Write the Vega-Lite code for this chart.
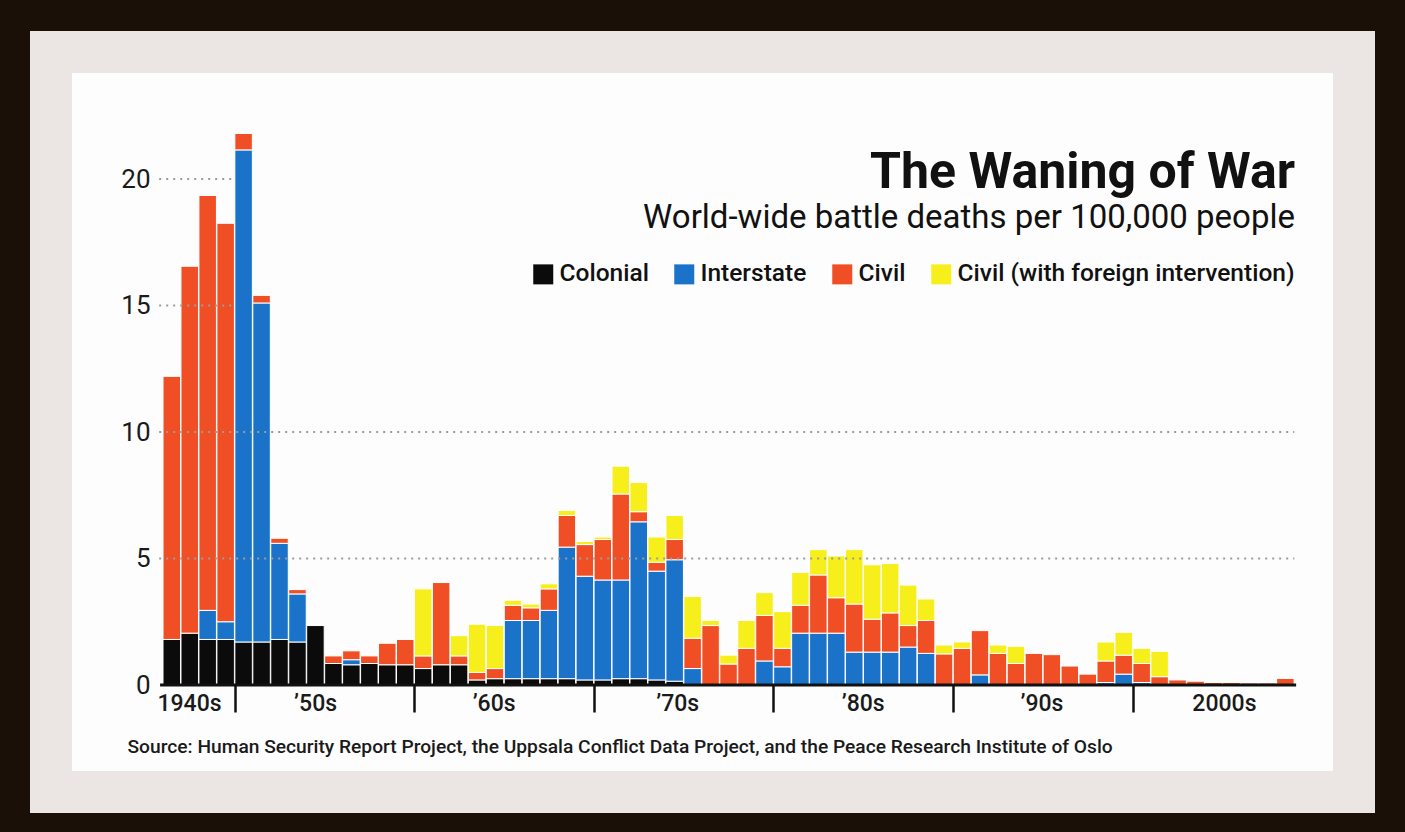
{
  "$schema": "https://vega.github.io/schema/vega-lite/v6.json",
  "width": 1303,
  "height": 740,
  "autosize": "none",
  "padding": {"left": 51, "top": 52, "right": 51, "bottom": 40},
  "background": "#1b1008",
  "title": {
    "text": "The Waning of War",
    "subtitle": "World-wide battle deaths per 100,000 people",
    "orient": "top",
    "anchor": "end",
    "frame": "group",
    "offset": -183,
    "dx": -59,
    "font": "Roboto",
    "fontSize": 50,
    "fontWeight": "bold",
    "color": "#111111",
    "subtitleFont": "Roboto",
    "subtitleFontSize": 33,
    "subtitleColor": "#111111",
    "subtitlePadding": 4
  },
  "datasets": {
    "war_types": [
      {"type": "Colonial", "stack_order": 1},
      {"type": "Interstate", "stack_order": 2},
      {"type": "Civil", "stack_order": 3},
      {"type": "Civil (with foreign intervention)", "stack_order": 4}
    ],
    "battle_deaths": [
      {"year": 1946, "Colonial": 1.8, "Interstate": 0, "Civil": 10.4, "Civil (with foreign intervention)": 0},
      {"year": 1947, "Colonial": 2.05, "Interstate": 0, "Civil": 14.5, "Civil (with foreign intervention)": 0},
      {"year": 1948, "Colonial": 1.8, "Interstate": 1.15, "Civil": 16.4, "Civil (with foreign intervention)": 0},
      {"year": 1949, "Colonial": 1.8, "Interstate": 0.7, "Civil": 15.75, "Civil (with foreign intervention)": 0},
      {"year": 1950, "Colonial": 1.7, "Interstate": 19.45, "Civil": 0.65, "Civil (with foreign intervention)": 0},
      {"year": 1951, "Colonial": 1.7, "Interstate": 13.4, "Civil": 0.3, "Civil (with foreign intervention)": 0},
      {"year": 1952, "Colonial": 1.8, "Interstate": 3.8, "Civil": 0.2, "Civil (with foreign intervention)": 0},
      {"year": 1953, "Colonial": 1.7, "Interstate": 1.9, "Civil": 0.17, "Civil (with foreign intervention)": 0},
      {"year": 1954, "Colonial": 2.35, "Interstate": 0, "Civil": 0, "Civil (with foreign intervention)": 0},
      {"year": 1955, "Colonial": 0.85, "Interstate": 0, "Civil": 0.3, "Civil (with foreign intervention)": 0},
      {"year": 1956, "Colonial": 0.8, "Interstate": 0.2, "Civil": 0.35, "Civil (with foreign intervention)": 0},
      {"year": 1957, "Colonial": 0.85, "Interstate": 0, "Civil": 0.3, "Civil (with foreign intervention)": 0},
      {"year": 1958, "Colonial": 0.8, "Interstate": 0, "Civil": 0.85, "Civil (with foreign intervention)": 0},
      {"year": 1959, "Colonial": 0.8, "Interstate": 0, "Civil": 1.0, "Civil (with foreign intervention)": 0},
      {"year": 1960, "Colonial": 0.65, "Interstate": 0, "Civil": 0.5, "Civil (with foreign intervention)": 2.65},
      {"year": 1961, "Colonial": 0.8, "Interstate": 0, "Civil": 3.25, "Civil (with foreign intervention)": 0},
      {"year": 1962, "Colonial": 0.8, "Interstate": 0, "Civil": 0.35, "Civil (with foreign intervention)": 0.8},
      {"year": 1963, "Colonial": 0.2, "Interstate": 0, "Civil": 0.3, "Civil (with foreign intervention)": 1.9},
      {"year": 1964, "Colonial": 0.25, "Interstate": 0, "Civil": 0.4, "Civil (with foreign intervention)": 1.7},
      {"year": 1965, "Colonial": 0.25, "Interstate": 2.3, "Civil": 0.6, "Civil (with foreign intervention)": 0.2},
      {"year": 1966, "Colonial": 0.25, "Interstate": 2.3, "Civil": 0.5, "Civil (with foreign intervention)": 0.15},
      {"year": 1967, "Colonial": 0.25, "Interstate": 2.7, "Civil": 0.85, "Civil (with foreign intervention)": 0.2},
      {"year": 1968, "Colonial": 0.25, "Interstate": 5.2, "Civil": 1.25, "Civil (with foreign intervention)": 0.2},
      {"year": 1969, "Colonial": 0.2, "Interstate": 4.1, "Civil": 1.25, "Civil (with foreign intervention)": 0.12},
      {"year": 1970, "Colonial": 0.2, "Interstate": 3.95, "Civil": 1.6, "Civil (with foreign intervention)": 0.1},
      {"year": 1971, "Colonial": 0.25, "Interstate": 3.9, "Civil": 3.4, "Civil (with foreign intervention)": 1.1},
      {"year": 1972, "Colonial": 0.25, "Interstate": 6.2, "Civil": 0.4, "Civil (with foreign intervention)": 1.15},
      {"year": 1973, "Colonial": 0.2, "Interstate": 4.3, "Civil": 0.35, "Civil (with foreign intervention)": 1.0},
      {"year": 1974, "Colonial": 0.15, "Interstate": 4.8, "Civil": 0.8, "Civil (with foreign intervention)": 0.95},
      {"year": 1975, "Colonial": 0, "Interstate": 0.65, "Civil": 1.2, "Civil (with foreign intervention)": 1.65},
      {"year": 1976, "Colonial": 0, "Interstate": 0, "Civil": 2.35, "Civil (with foreign intervention)": 0.2},
      {"year": 1977, "Colonial": 0, "Interstate": 0, "Civil": 0.83, "Civil (with foreign intervention)": 0.35},
      {"year": 1978, "Colonial": 0, "Interstate": 0, "Civil": 1.45, "Civil (with foreign intervention)": 1.1},
      {"year": 1979, "Colonial": 0, "Interstate": 0.95, "Civil": 1.8, "Civil (with foreign intervention)": 0.9},
      {"year": 1980, "Colonial": 0, "Interstate": 0.72, "Civil": 0.73, "Civil (with foreign intervention)": 1.45},
      {"year": 1981, "Colonial": 0, "Interstate": 2.05, "Civil": 1.1, "Civil (with foreign intervention)": 1.3},
      {"year": 1982, "Colonial": 0, "Interstate": 2.05, "Civil": 2.3, "Civil (with foreign intervention)": 1.0},
      {"year": 1983, "Colonial": 0, "Interstate": 2.05, "Civil": 1.4, "Civil (with foreign intervention)": 1.65},
      {"year": 1984, "Colonial": 0, "Interstate": 1.3, "Civil": 1.9, "Civil (with foreign intervention)": 2.15},
      {"year": 1985, "Colonial": 0, "Interstate": 1.3, "Civil": 1.3, "Civil (with foreign intervention)": 2.15},
      {"year": 1986, "Colonial": 0, "Interstate": 1.3, "Civil": 1.55, "Civil (with foreign intervention)": 1.95},
      {"year": 1987, "Colonial": 0, "Interstate": 1.5, "Civil": 0.85, "Civil (with foreign intervention)": 1.6},
      {"year": 1988, "Colonial": 0, "Interstate": 1.25, "Civil": 1.3, "Civil (with foreign intervention)": 0.85},
      {"year": 1989, "Colonial": 0, "Interstate": 0, "Civil": 1.23, "Civil (with foreign intervention)": 0.35},
      {"year": 1990, "Colonial": 0, "Interstate": 0, "Civil": 1.45, "Civil (with foreign intervention)": 0.25},
      {"year": 1991, "Colonial": 0, "Interstate": 0.4, "Civil": 1.75, "Civil (with foreign intervention)": 0},
      {"year": 1992, "Colonial": 0, "Interstate": 0, "Civil": 1.25, "Civil (with foreign intervention)": 0.33},
      {"year": 1993, "Colonial": 0, "Interstate": 0, "Civil": 0.85, "Civil (with foreign intervention)": 0.68},
      {"year": 1994, "Colonial": 0, "Interstate": 0, "Civil": 1.25, "Civil (with foreign intervention)": 0},
      {"year": 1995, "Colonial": 0, "Interstate": 0, "Civil": 1.2, "Civil (with foreign intervention)": 0},
      {"year": 1996, "Colonial": 0, "Interstate": 0, "Civil": 0.75, "Civil (with foreign intervention)": 0},
      {"year": 1997, "Colonial": 0, "Interstate": 0, "Civil": 0.43, "Civil (with foreign intervention)": 0},
      {"year": 1998, "Colonial": 0, "Interstate": 0.1, "Civil": 0.85, "Civil (with foreign intervention)": 0.75},
      {"year": 1999, "Colonial": 0, "Interstate": 0.43, "Civil": 0.75, "Civil (with foreign intervention)": 0.9},
      {"year": 2000, "Colonial": 0, "Interstate": 0.1, "Civil": 0.75, "Civil (with foreign intervention)": 0.6},
      {"year": 2001, "Colonial": 0, "Interstate": 0, "Civil": 0.33, "Civil (with foreign intervention)": 1.0},
      {"year": 2002, "Colonial": 0, "Interstate": 0, "Civil": 0.2, "Civil (with foreign intervention)": 0},
      {"year": 2003, "Colonial": 0, "Interstate": 0, "Civil": 0.15, "Civil (with foreign intervention)": 0},
      {"year": 2004, "Colonial": 0, "Interstate": 0, "Civil": 0.1, "Civil (with foreign intervention)": 0},
      {"year": 2005, "Colonial": 0, "Interstate": 0, "Civil": 0.1, "Civil (with foreign intervention)": 0},
      {"year": 2006, "Colonial": 0, "Interstate": 0, "Civil": 0.08, "Civil (with foreign intervention)": 0},
      {"year": 2007, "Colonial": 0, "Interstate": 0, "Civil": 0.08, "Civil (with foreign intervention)": 0},
      {"year": 2008, "Colonial": 0, "Interstate": 0, "Civil": 0.26, "Civil (with foreign intervention)": 0}
    ]
  },
  "layer": [
    {
      "data": {"name": "battle_deaths"},
      "transform": [
        {"fold": ["Colonial", "Interstate", "Civil", "Civil (with foreign intervention)"], "as": ["type", "deaths"]},
        {"filter": "datum.deaths > 0"},
        {"lookup": "type", "from": {"data": {"name": "war_types"}, "key": "type", "fields": ["stack_order"]}}
      ],
      "mark": {"type": "bar", "size": 17.5, "stroke": "#ffffff", "strokeWidth": 1},
      "encoding": {
        "x": {
          "field": "year",
          "type": "quantitative",
          "scale": {"domain": [1939.555, 2011.544], "nice": false, "zero": false},
          "axis": {
            "values": [1946.96, 1949.5, 1953.98, 1959.5, 1963.92, 1969.5, 1974.14, 1979.5, 1984.47, 1989.5, 1994.42, 1999.5, 2004.58],
            "labelExpr": "datum.value % 10 == 9.5 ? '' : datum.value < 1950 ? '1940s' : datum.value < 1960 ? '’50s' : datum.value < 1970 ? '’60s' : datum.value < 1980 ? '’70s' : datum.value < 1990 ? '’80s' : datum.value < 2000 ? '’90s' : '2000s'",
            "orient": "bottom",
            "offset": -107,
            "zindex": 2,
            "domain": false,
            "grid": false,
            "tickSize": 27,
            "tickWidth": 2.5,
            "tickColor": "#111111",
            "tickOpacity": {"condition": {"test": "datum.value % 10 == 9.5", "value": 1}, "value": 0},
            "labelPadding": -20,
            "labelFont": "Roboto",
            "labelFontSize": 23,
            "labelFontWeight": 500,
            "labelColor": "#1a1a1a",
            "labelBaseline": "top",
            "labelAlign": "center",
            "labelOverlap": false,
            "labelFlush": false,
            "labelBound": false,
            "title": "Source: Human Security Report Project, the Uppsala Conflict Data Project, and the Peace Research Institute of Oslo",
            "titleFont": "Roboto",
            "titleFontSize": 19.2,
            "titleFontWeight": 500,
            "titleColor": "#1a1a1a",
            "titleAnchor": "start",
            "titleAlign": "left",
            "titleBaseline": "alphabetic",
            "titleX": 76,
            "titleY": 67
          }
        },
        "y": {
          "field": "deaths",
          "type": "quantitative",
          "stack": "zero",
          "scale": {"domain": [-4.229, 25.02], "nice": false, "zero": false},
          "axis": {
            "values": [0, 5, 10, 15, 20],
            "orient": "left",
            "offset": -99,
            "zindex": 2,
            "ticks": false,
            "domain": false,
            "grid": false,
            "labelPadding": 0,
            "title": null,
            "labelFont": "Roboto",
            "labelFontSize": 26,
            "labelColor": "#1a1a1a"
          }
        },
        "color": {
          "field": "type",
          "type": "nominal",
          "scale": {
            "domain": ["Colonial", "Interstate", "Civil", "Civil (with foreign intervention)"],
            "range": ["#0b0b0b", "#1a73c9", "#f04f26", "#f6ef1b"]
          },
          "legend": {
            "orient": "none",
            "legendX": 480,
            "legendY": 210,
            "direction": "horizontal",
            "title": null,
            "symbolType": "square",
            "symbolSize": 400,
            "symbolStrokeWidth": 0,
            "symbolOpacity": 1,
            "labelFont": "Roboto",
            "labelFontSize": 24.5,
            "labelFontWeight": 500,
            "labelColor": "#111111",
            "labelOffset": 4,
            "columnPadding": 23,
            "padding": 0,
            "labelLimit": 0
          }
        },
        "order": {"field": "stack_order", "type": "quantitative", "sort": "ascending"}
      }
    },
    {
      "data": {"values": [{"level": 5}, {"level": 10}]},
      "mark": {"type": "rule", "stroke": "#9c9c9c", "strokeWidth": 2, "strokeDash": [2, 5]},
      "encoding": {
        "y": {"field": "level", "type": "quantitative"},
        "x": {"datum": 1945.3, "type": "quantitative"},
        "x2": {"datum": 2008.5}
      }
    },
    {
      "data": {"values": [{"level": 15}, {"level": 20}]},
      "mark": {"type": "rule", "stroke": "#9c9c9c", "strokeWidth": 2, "strokeDash": [2, 5]},
      "encoding": {
        "y": {"field": "level", "type": "quantitative"},
        "x": {"datum": 1945.3, "type": "quantitative"},
        "x2": {"datum": 1949.5}
      }
    },
    {
      "data": {"values": [{"level": 0}]},
      "mark": {"type": "rule", "stroke": "#111111", "strokeWidth": 3},
      "encoding": {
        "y": {"field": "level", "type": "quantitative"},
        "x": {"datum": 1945.35, "type": "quantitative"},
        "x2": {"datum": 2008.6}
      }
    }
  ],
  "config": {
    "view": {"fill": "#fdfdfd", "stroke": "#ebe6e3", "strokeWidth": 42}
  }
}
